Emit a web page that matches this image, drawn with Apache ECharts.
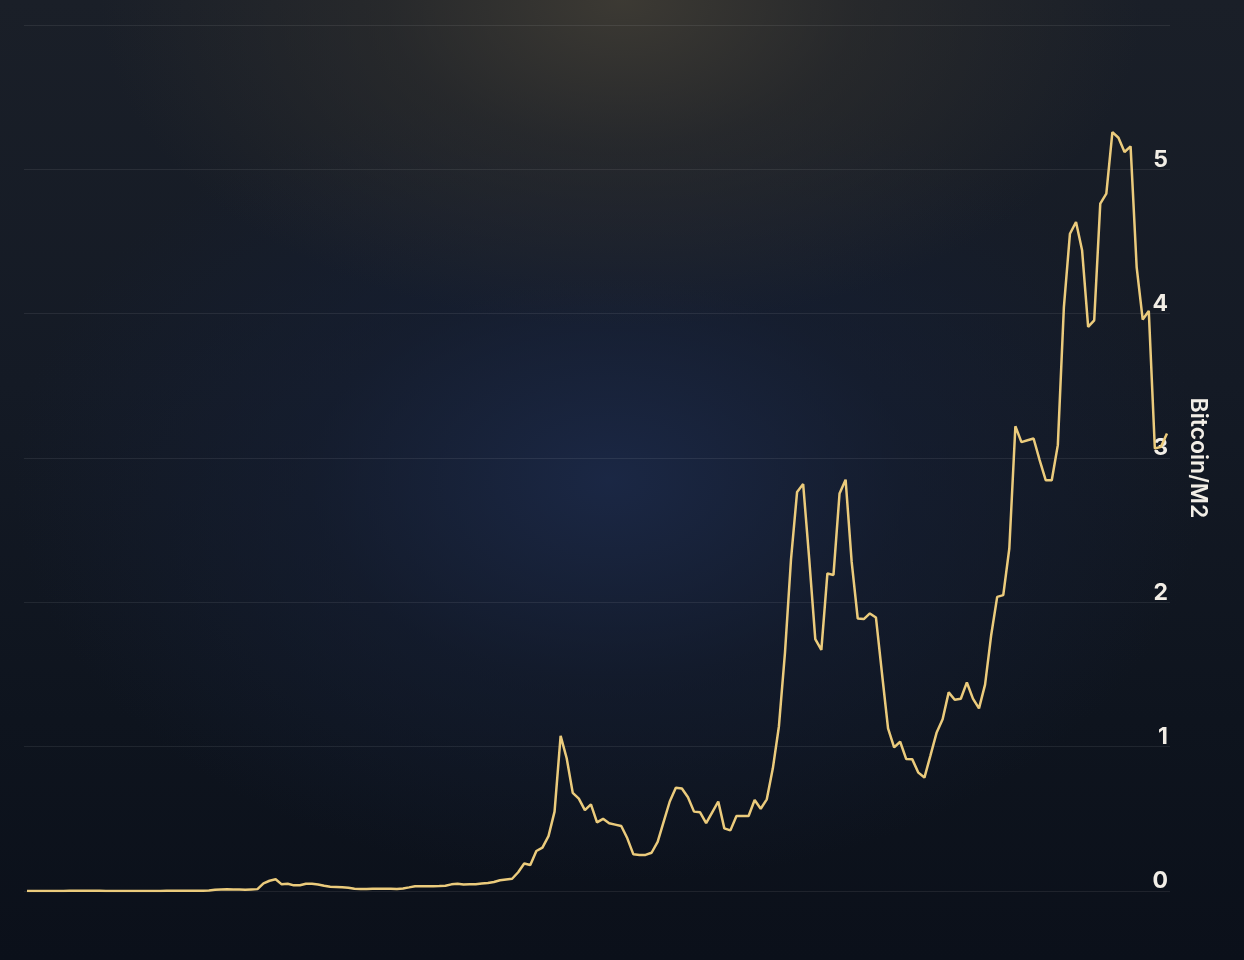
<!DOCTYPE html>
<html>
<head>
<meta charset="utf-8">
<script src="https://cdn.jsdelivr.net/npm/echarts@6/dist/echarts.min.js"></script>
<style>
html,body{margin:0;padding:0;width:1244px;height:960px;overflow:hidden;}
body{
  background:
    radial-gradient(ellipse 42% 34% at 50% 0%, rgba(62,59,52,0.95) 0%, rgba(50,49,46,0.55) 45%, rgba(40,40,42,0) 100%),
    radial-gradient(ellipse 48% 42% at 49% 50%, rgba(27,40,70,0.95) 0%, rgba(22,32,55,0.5) 50%, rgba(20,28,45,0) 100%),
    linear-gradient(180deg, #1a1f28 0%, #141a25 40%, #0e141e 75%, #0b101a 100%);
}
#chart{width:1244px;height:960px;}
</style>
</head>
<body>
<div id="chart"></div>
<script>
const months = [
"2010-08","2010-09","2010-10","2010-11","2010-12",
"2011-01","2011-02","2011-03","2011-04","2011-05","2011-06","2011-07","2011-08","2011-09","2011-10","2011-11","2011-12",
"2012-01","2012-02","2012-03","2012-04","2012-05","2012-06","2012-07","2012-08","2012-09","2012-10","2012-11","2012-12",
"2013-01","2013-02","2013-03","2013-04","2013-05","2013-06","2013-07","2013-08","2013-09","2013-10","2013-11","2013-12",
"2014-01","2014-02","2014-03","2014-04","2014-05","2014-06","2014-07","2014-08","2014-09","2014-10","2014-11","2014-12",
"2015-01","2015-02","2015-03","2015-04","2015-05","2015-06","2015-07","2015-08","2015-09","2015-10","2015-11","2015-12",
"2016-01","2016-02","2016-03","2016-04","2016-05","2016-06","2016-07","2016-08","2016-09","2016-10","2016-11","2016-12",
"2017-01","2017-02","2017-03","2017-04","2017-05","2017-06","2017-07","2017-08","2017-09","2017-10","2017-11","2017-12",
"2018-01","2018-02","2018-03","2018-04","2018-05","2018-06","2018-07","2018-08","2018-09","2018-10","2018-11","2018-12",
"2019-01","2019-02","2019-03","2019-04","2019-05","2019-06","2019-07","2019-08","2019-09","2019-10","2019-11","2019-12",
"2020-01","2020-02","2020-03","2020-04","2020-05","2020-06","2020-07","2020-08","2020-09","2020-10","2020-11","2020-12",
"2021-01","2021-02","2021-03","2021-04","2021-05","2021-06","2021-07","2021-08","2021-09","2021-10","2021-11","2021-12",
"2022-01","2022-02","2022-03","2022-04","2022-05","2022-06","2022-07","2022-08","2022-09","2022-10","2022-11","2022-12",
"2023-01","2023-02","2023-03","2023-04","2023-05","2023-06","2023-07","2023-08","2023-09","2023-10","2023-11","2023-12",
"2024-01","2024-02","2024-03","2024-04","2024-05","2024-06","2024-07","2024-08","2024-09","2024-10","2024-11","2024-12",
"2025-01","2025-02","2025-03","2025-04","2025-05","2025-06","2025-07","2025-08","2025-09","2025-10","2025-11","2025-12",
"2026-01","2026-02","2026-03","2026-04"
];

const btcOverM2 = [
0, 0, 0, 0, 0, 0, 0.0005, 0.001, 0.001, 0.002,
0.0015, 0.001, 0.001, 0.0006, 0.0005, 0.0005, 0.0006, 0.0005, 0.0006, 0.0006,
0.0006, 0.0006, 0.0007, 0.0009, 0.001, 0.001, 0.0012, 0.0011, 0.0012, 0.0015,
0.003, 0.008, 0.010, 0.012, 0.011, 0.010, 0.009, 0.011, 0.013, 0.053,
0.071, 0.081, 0.046, 0.050, 0.039, 0.040, 0.050, 0.050, 0.045, 0.036,
0.030, 0.028, 0.026, 0.022, 0.015, 0.014, 0.014, 0.015, 0.015, 0.015,
0.015, 0.014, 0.018, 0.025, 0.033, 0.033, 0.033, 0.033, 0.034, 0.036,
0.046, 0.050, 0.045, 0.046, 0.047, 0.052, 0.056, 0.062, 0.074, 0.080,
0.085, 0.13, 0.19, 0.18, 0.277, 0.30, 0.38, 0.55, 1.075, 0.92,
0.68, 0.64, 0.56, 0.60, 0.476, 0.50, 0.47, 0.46, 0.45, 0.365,
0.254, 0.25, 0.25, 0.265, 0.34, 0.48, 0.62, 0.715, 0.71, 0.65,
0.55, 0.545, 0.47, 0.545, 0.62, 0.434, 0.42, 0.52, 0.52, 0.52,
0.63, 0.57, 0.635, 0.85, 1.14, 1.65, 2.3, 2.765, 2.82, 2.3,
1.745, 1.67, 2.2, 2.19, 2.754, 2.85, 2.28, 1.888, 1.884, 1.923,
1.895, 1.507, 1.127, 0.995, 1.034, 0.914, 0.912, 0.82, 0.786, 0.94,
1.096, 1.19, 1.376, 1.325, 1.332, 1.445, 1.333, 1.265, 1.43, 1.77,
2.038, 2.05, 2.373, 3.22, 3.11, 3.123, 3.135, 2.985, 2.846, 2.846,
3.089, 4.046, 4.554, 4.635, 4.44, 3.908, 3.954, 4.762, 4.832, 5.258,
5.219, 5.12, 5.159, 4.323, 3.959, 4.019, 3.066, 3.077, 3.17
];

const yAxisName = "Bitcoin/M2";

const chart = echarts.init(document.getElementById('chart'), null, {renderer: 'canvas'});
chart.setOption({
  backgroundColor: 'transparent',
  animation: false,
  grid: {left: 24, right: 74, top: 25, bottom: 69, containLabel: false},
  xAxis: {
    type: 'category',
    data: months,
    boundaryGap: true,
    axisLine: {show: false},
    axisTick: {show: false},
    axisLabel: {show: false},
    splitLine: {show: false}
  },
  yAxis: {
    type: 'value',
    position: 'right',
    min: 0,
    max: 6,
    interval: 1,
    name: yAxisName,
    nameLocation: 'middle',
    nameRotate: -90,
    nameGap: 16,
    nameTextStyle: {
      color: '#f2eee6',
      fontFamily: 'Inter',
      fontSize: 23,
      fontWeight: 600
    },
    axisLine: {show: false},
    axisTick: {show: false},
    axisLabel: {
      inside: true,
      margin: 2,
      showMaxLabel: false,
      color: '#f2eee6',
      fontFamily: 'Inter',
      fontSize: 23,
      fontWeight: 700,
      align: 'right',
      verticalAlign: 'bottom',
      padding: [0, 0, -2, 0]
    },
    splitLine: {lineStyle: {color: 'rgba(255,255,255,0.08)', width: 1}}
  },
  series: [{
    type: 'line',
    data: btcOverM2,
    showSymbol: false,
    symbol: 'none',
    lineStyle: {color: '#ebcb7c', width: 2.5},
    z: 1
  }]
});
</script>
</body>
</html>
